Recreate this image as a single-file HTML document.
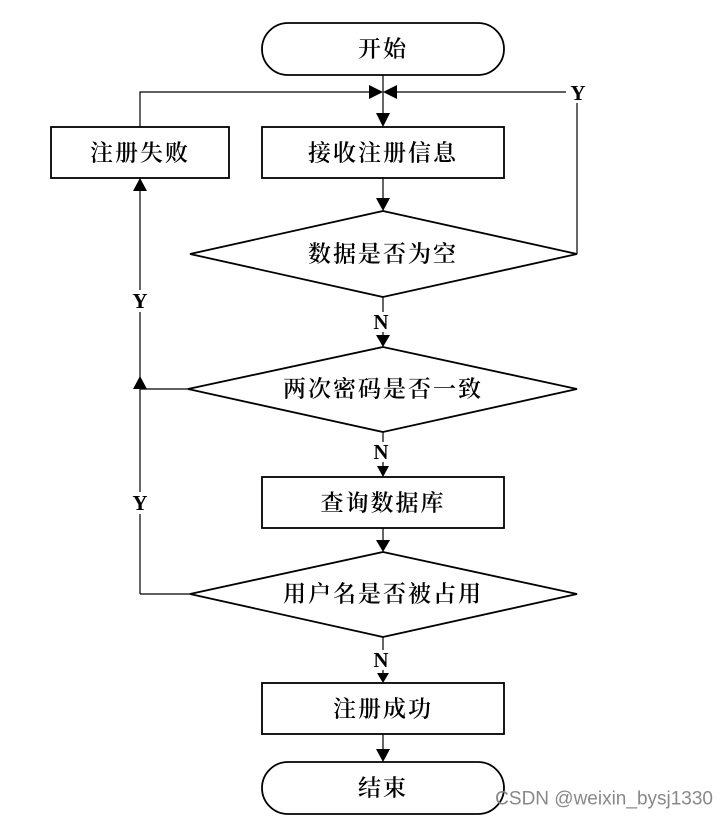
<!DOCTYPE html>
<html><head><meta charset="utf-8"><style>
html,body{margin:0;padding:0;background:#fff;}
svg{display:block;}
.t{font-family:"Liberation Serif","Noto Serif CJK SC",serif;font-size:23px;font-weight:600;fill:#000;text-anchor:middle;dominant-baseline:central;letter-spacing:2px;}
.l{font-family:"Liberation Serif",serif;font-size:21px;font-weight:bold;fill:#000;text-anchor:middle;dominant-baseline:central;}
</style></head><body>
<svg width="727" height="819" viewBox="0 0 727 819" xmlns="http://www.w3.org/2000/svg">
<g fill="none" stroke="#000" stroke-width="1.8">
<rect x="262" y="23" width="242" height="52" rx="26"/>
<rect x="51" y="127" width="178" height="51"/>
<rect x="262" y="127" width="242" height="51"/>
<polygon points="383,211 577,254 383,297 190,254"/>
<polygon points="383,347 577,389 383,432 188,389"/>
<rect x="262" y="477" width="242" height="51"/>
<polygon points="383,552 577,594 383,637 190,594"/>
<rect x="262" y="683" width="242" height="51"/>
<rect x="262" y="762" width="242" height="52" rx="26"/>
</g>
<g fill="none" stroke="#000" stroke-width="1.2">
<line x1="383" y1="75" x2="383" y2="114"/>
<polyline points="140,127 140,92 370,92"/>
<polyline points="577,254 577,103"/>
<line x1="396" y1="92" x2="566" y2="92"/>
<line x1="383" y1="178" x2="383" y2="199"/>
<line x1="383" y1="297" x2="383" y2="312"/>
<line x1="383" y1="332" x2="383" y2="336"/>
<polyline points="188,389 140,389"/>
<line x1="140" y1="190" x2="140" y2="290"/>
<line x1="140" y1="312" x2="140" y2="378"/>
<line x1="140" y1="389" x2="140" y2="492"/>
<line x1="140" y1="514" x2="140" y2="594"/>
<line x1="140" y1="594" x2="190" y2="594"/>
<line x1="383" y1="432" x2="383" y2="442"/>
<line x1="383" y1="462" x2="383" y2="466"/>
<line x1="383" y1="528" x2="383" y2="541"/>
<line x1="383" y1="637" x2="383" y2="650"/>
<line x1="383" y1="670" x2="383" y2="674"/>
<line x1="383" y1="734" x2="383" y2="750"/>
</g>
<g fill="#000">
<polygon points="376,113 390,113 383,127"/>
<polygon points="369,85 369,99 383,92"/>
<polygon points="397,85 397,99 383,92"/>
<polygon points="376,198 390,198 383,211"/>
<polygon points="376,335 390,335 383,347"/>
<polygon points="133,191 147,191 140,178"/>
<polygon points="133,389 147,389 140,376"/>
<polygon points="377,466 389,466 383,477"/>
<polygon points="376,540 390,540 383,552"/>
<polygon points="377,673 389,673 383,683"/>
<polygon points="376,749 390,749 383,762"/>
</g>
<text class="t" x="383" y="49">开始</text>
<text class="t" x="140" y="153">注册失败</text>
<text class="t" x="383" y="153">接收注册信息</text>
<text class="t" x="383" y="254">数据是否为空</text>
<text class="t" x="383" y="389">两次密码是否一致</text>
<text class="t" x="383" y="503">查询数据库</text>
<text class="t" x="383" y="594">用户名是否被占用</text>
<text class="t" x="383" y="709">注册成功</text>
<text class="t" x="383" y="788">结束</text>
<text class="l" x="578" y="93">Y</text>
<text class="l" x="140" y="301">Y</text>
<text class="l" x="140" y="503">Y</text>
<text class="l" x="381" y="322">N</text>
<text class="l" x="381" y="452">N</text>
<text class="l" x="381" y="660">N</text>
<text x="713" y="799" font-family="Liberation Sans, sans-serif" font-size="19" fill="#888" text-anchor="end" dominant-baseline="central">CSDN @weixin_bysj1330</text>
</svg>
</body></html>
